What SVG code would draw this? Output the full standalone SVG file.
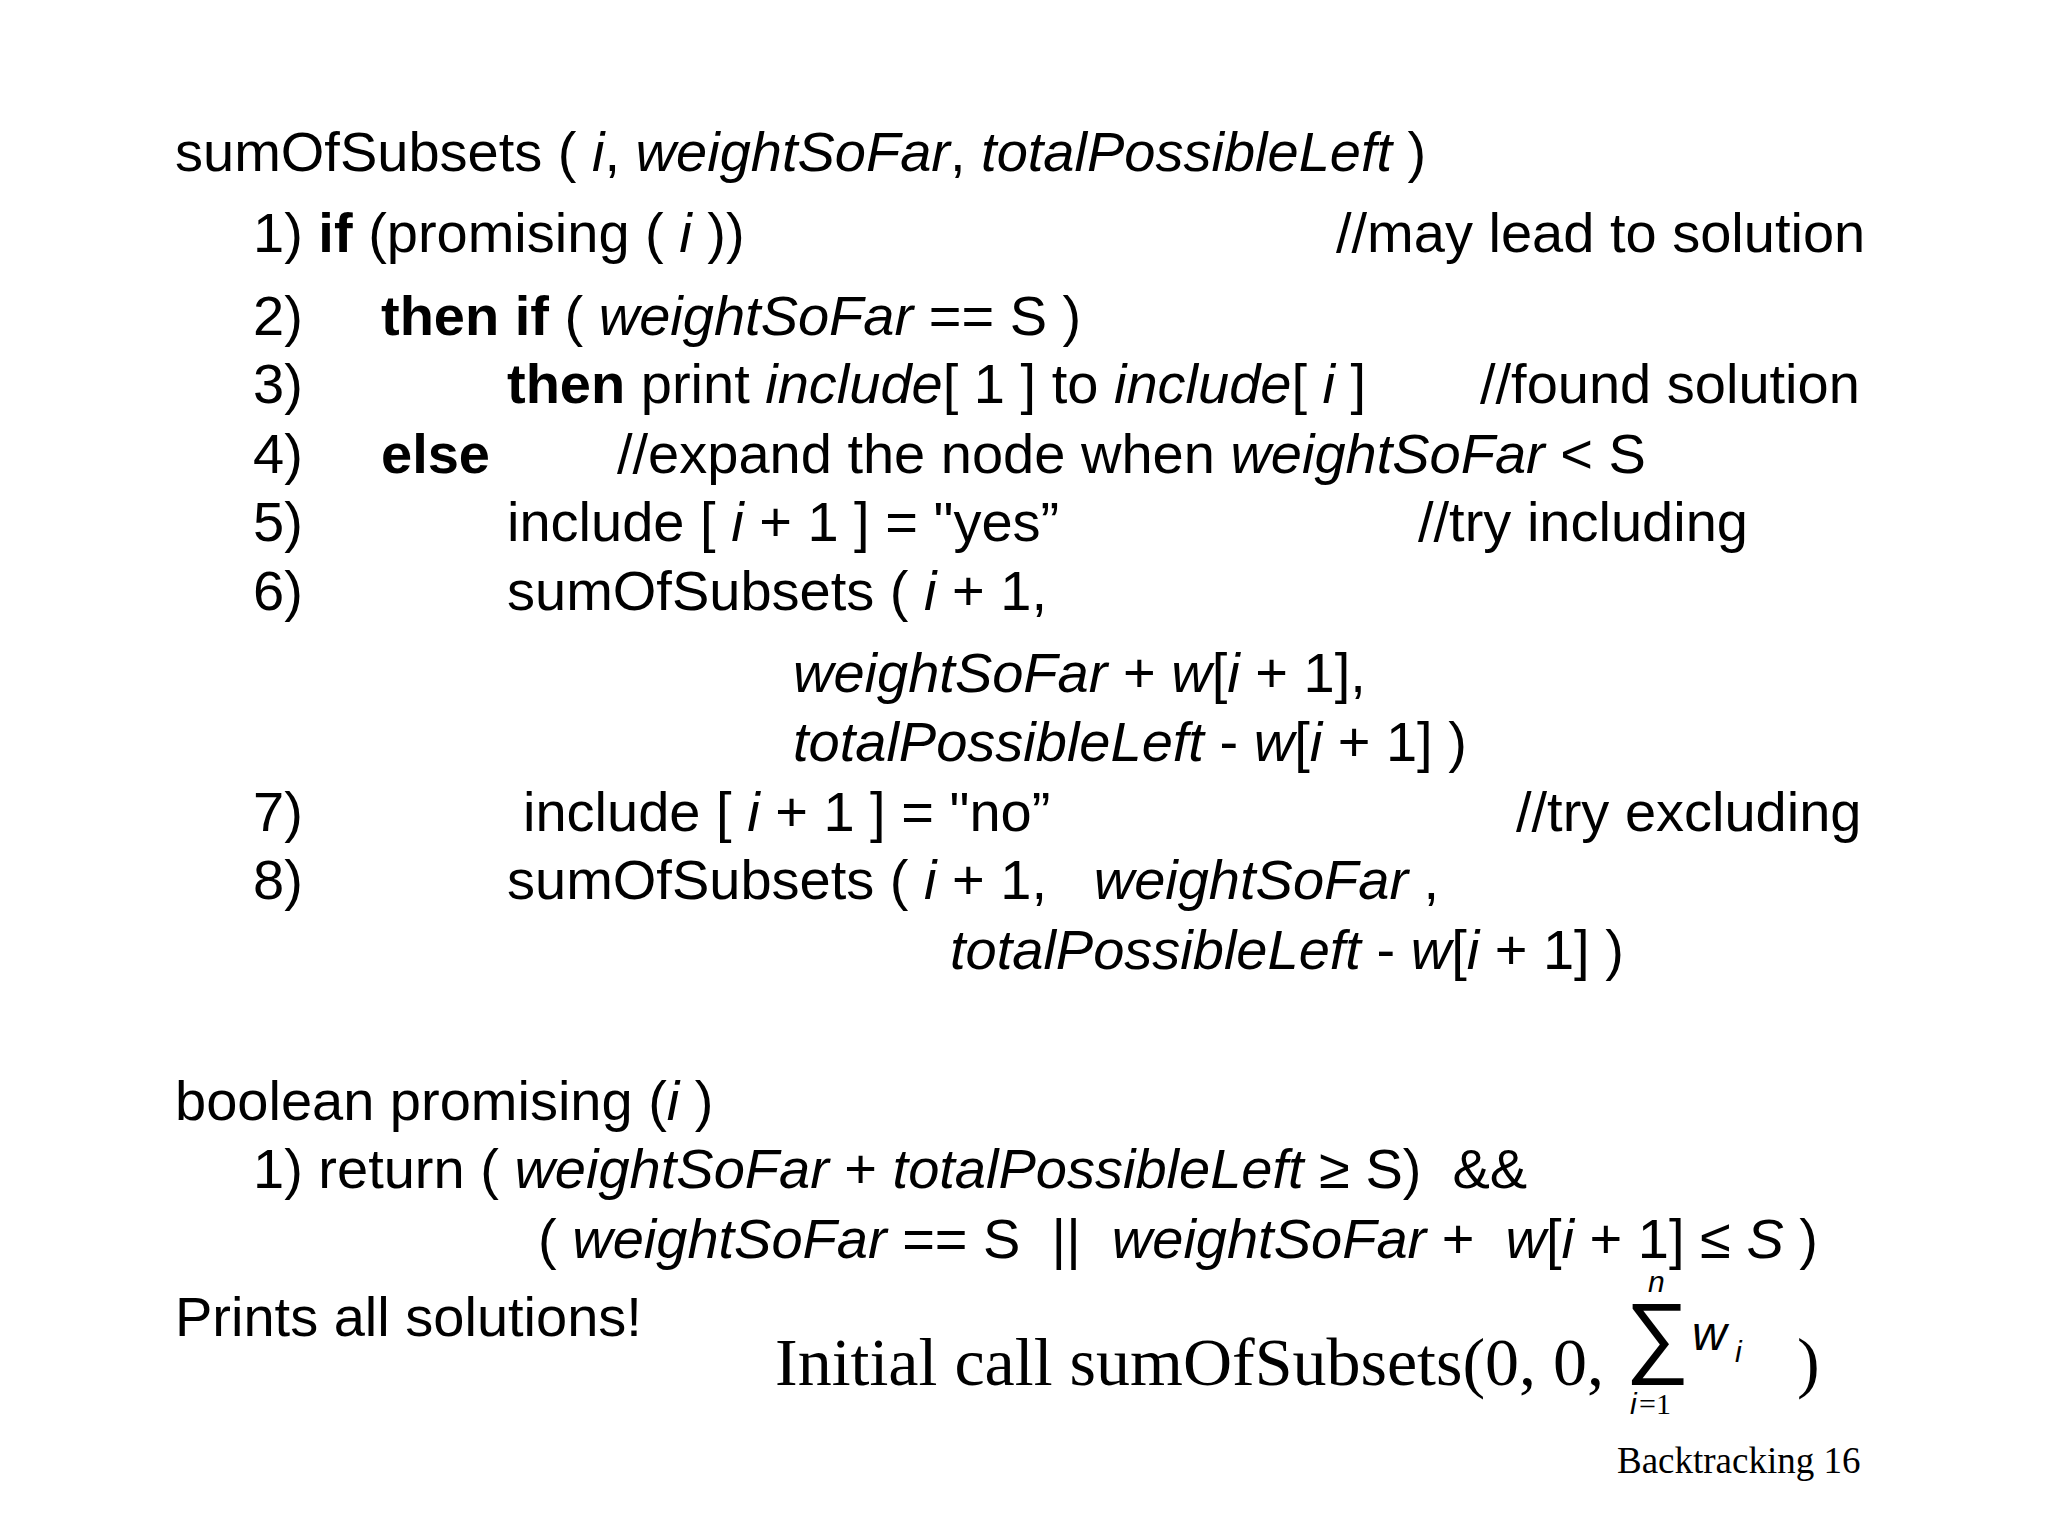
<svg xmlns="http://www.w3.org/2000/svg" width="2048" height="1536" viewBox="0 0 2048 1536">
<style>
text{font-family:"Liberation Sans",Arial,sans-serif;font-size:56px;fill:#000;white-space:pre}
.i{font-style:italic}.b{font-weight:bold}
.s{font-family:"Liberation Serif","Times New Roman",serif}
</style>
<rect width="2048" height="1536" fill="#fff"/>
<g id="code" xml:space="preserve">
<text x="175" y="171">sumOfSubsets ( <tspan class="i">i</tspan>, <tspan class="i">weightSoFar</tspan>, <tspan class="i">totalPossibleLeft</tspan> )</text>
<text x="253" y="252">1) <tspan class="b">if</tspan> (promising ( <tspan class="i">i</tspan> ))</text>
<text x="1336" y="252">//may lead to solution</text>
<text x="253" y="335">2)</text><text x="381" y="335"><tspan class="b">then if</tspan> ( <tspan class="i">weightSoFar</tspan> == S )</text>
<text x="253" y="403">3)</text><text x="507" y="403"><tspan class="b">then</tspan> print <tspan class="i">include</tspan>[ 1 ] to <tspan class="i">include</tspan>[ <tspan class="i">i</tspan> ]</text>
<text x="1480" y="403">//found solution</text>
<text x="253" y="473">4)</text><text x="381" y="473" class="b">else</text>
<text x="617" y="473">//expand the node when <tspan class="i">weightSoFar</tspan> &lt; S</text>
<text x="253" y="541">5)</text><text x="507" y="541">include [ <tspan class="i">i</tspan> + 1 ] = "yes”</text>
<text x="1418" y="541">//try including</text>
<text x="253" y="610">6)</text><text x="507" y="610">sumOfSubsets ( <tspan class="i">i</tspan> + 1,</text>
<text x="793" y="692"><tspan class="i">weightSoFar</tspan> + <tspan class="i">w</tspan>[<tspan class="i">i</tspan> + 1],</text>
<text x="793" y="761"><tspan class="i">totalPossibleLeft</tspan> - <tspan class="i">w</tspan>[<tspan class="i">i</tspan> + 1] )</text>
<text x="253" y="831">7)</text><text x="523" y="831">include [ <tspan class="i">i</tspan> + 1 ] = "no”</text>
<text x="1516" y="831">//try excluding</text>
<text x="253" y="899">8)</text><text x="507" y="899">sumOfSubsets ( <tspan class="i">i</tspan> + 1,   <tspan class="i">weightSoFar</tspan> ,</text>
<text x="950" y="969"><tspan class="i">totalPossibleLeft</tspan> - <tspan class="i">w</tspan>[<tspan class="i">i</tspan> + 1] )</text>
<text x="175" y="1120">boolean promising (<tspan class="i">i</tspan> )</text>
<text x="253" y="1188">1) return ( <tspan class="i">weightSoFar</tspan> + <tspan class="i">totalPossibleLeft</tspan> ≥ S)  &amp;&amp;</text>
<text x="538" y="1258">( <tspan class="i">weightSoFar</tspan> == S  ||  <tspan class="i">weightSoFar</tspan> +  <tspan class="i">w</tspan>[<tspan class="i">i</tspan> + 1] ≤ <tspan class="i">S</tspan> )</text>
<text x="175" y="1336">Prints all solutions!</text>
</g>
<g id="initial">
<text x="775" y="1385" class="s" style="font-size:68px">Initial call sumOfSubsets(0, 0,</text>
<text x="1625" y="1366" style="font-size:90px">∑</text>
<text x="1648" y="1292" class="i" style="font-size:30px">n</text>
<text x="1630" y="1414" class="i" style="font-size:30px">i</text><text x="1639" y="1414" class="s" style="font-size:30px">=1</text>
<text x="1692" y="1350" class="i" style="font-size:48px">w</text>
<text x="1735" y="1362" class="i" style="font-size:30px">i</text>
<text x="1797" y="1385" class="s" style="font-size:68px">)</text>
</g>
<text x="1617" y="1473" class="s" style="font-size:37px">Backtracking 16</text>
</svg>
